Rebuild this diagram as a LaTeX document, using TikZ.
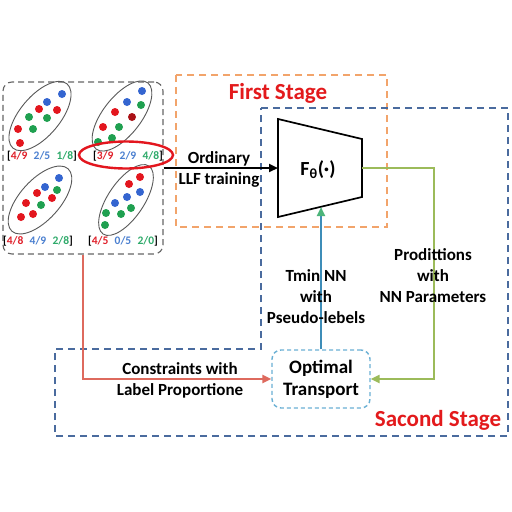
\documentclass[tikz,border=0pt]{standalone}
\usepackage{fontspec}
\setmainfont{Carlito}
\usetikzlibrary{arrows.meta}
\definecolor{dotred}{HTML}{E3161E}
\definecolor{dotblue}{HTML}{3465D0}
\definecolor{dotgreen}{HTML}{1FA050}
\definecolor{fracred}{HTML}{E0202A}
\definecolor{fracblue}{HTML}{4A7FD0}
\definecolor{fracgreen}{HTML}{2EAA6A}
\definecolor{stagered}{HTML}{E31A1C}
\definecolor{orangedash}{HTML}{F2A46B}
\definecolor{bluedash}{HTML}{4A6B9E}
\definecolor{otblue}{HTML}{6AB0D4}
\definecolor{redline}{HTML}{DE6A5E}
\definecolor{greenline}{HTML}{9CBB5A}
\definecolor{bluearrow}{HTML}{3E8DB8}
\definecolor{greentip}{HTML}{4CB47A}
\newcommand{\fracrow}[3]{[\textcolor{fracred}{#1}\hspace{0.55em}\textcolor{fracblue}{#2}\hspace{0.55em}\textcolor{fracgreen}{#3}]}
\begin{document}
\begin{tikzpicture}[x=1pt,y=-1pt,
  lbl/.style={font=\fontsize{17}{21}\selectfont\bfseries, align=center, inner sep=0pt},
  stagetxt/.style={font=\fontsize{23}{26}\selectfont\bfseries, text=stagered, inner sep=0pt},
  fractxt/.style={font=\fontsize{11.5}{13}\selectfont\bfseries, inner sep=0pt},
  bagell/.style={draw=black!65, line width=0.9pt},
  tipstyle/.style={-{Triangle[length=9pt,width=8pt]}},
  linkline/.style={line width=2.2pt}]
\useasboundingbox (0,0) rectangle (512,512);
\fill[white] (0,0) rectangle (512,512);

% stage boxes
\draw[orangedash, line width=1.6pt, dash pattern=on 7pt off 5pt] (176,75) rectangle (387,227);
\draw[bluedash, line width=1.6pt, dash pattern=on 7pt off 5pt]
  (261,108) -- (508,108) -- (508,436) -- (55,436) -- (55,349) -- (261,349) -- cycle;
\node[stagetxt] (first) at (278,93) {First Stage};
\node[stagetxt] (second) at (438,420) {Sacond Stage};

% bags box
\node[draw=black!60, line width=1.1pt, dash pattern=on 6pt off 4pt, rounded corners=9pt,
  minimum width=160pt, minimum height=172pt, inner sep=0pt] (bags) at (83,168) {};

% ellipses
\draw[bagell, rotate around={50:(40,116)}] (40,116) ellipse [x radius=42pt, y radius=20pt];
\draw[bagell, rotate around={52:(122,116)}] (122,116) ellipse [x radius=42pt, y radius=19pt];
\draw[bagell, rotate around={48:(40,200)}] (40,200) ellipse [x radius=42pt, y radius=20pt];
\draw[bagell, rotate around={56:(126,200)}] (126,200) ellipse [x radius=41pt, y radius=18pt];

% dots
\foreach \px/\py/\c in {62/94/dotblue, 47/102/dotblue, 39/109/dotred, 57/110/dotred,
   29/117/dotgreen, 47/118/dotgreen, 18/129/dotred, 33/129/dotgreen, 20/143/dotred,
   142/91/dotblue, 127/102/dotblue, 141/105/dotgreen, 115/112/dotred, 132/117/dotred!75!black,
   103/127/dotred, 119/127/dotgreen, 98/142/dotgreen, 112/138/dotgreen,
   59/178/dotblue, 45/187/dotblue, 57/190/dotgreen, 37/193/dotred, 52/198/dotred,
   26/203/dotred, 41/205/dotgreen, 21/217/dotred, 33/214/dotred,
   140/177/dotred, 129/184/dotred, 140/192/dotblue, 127/197/dotblue, 115/203/dotblue,
   131/208/dotgreen, 121/214/dotgreen, 106/213/dotgreen, 105/225/dotgreen}
  \fill[\c] (\px,\py) circle (4pt);

% fraction labels
\node[fractxt] (l1) at (42,156) {\fracrow{4/9}{2/5}{1/8}};
\node[fractxt] (l2) at (128,156) {\fracrow{3/9}{2/9}{4/8}};
\node[fractxt] (l3) at (38,241) {\fracrow{4/8}{4/9}{2/8}};
\node[fractxt] (l4) at (123,241) {\fracrow{4/5}{0/5}{2/0}};
\draw[dotred, line width=2.4pt] (126,155) ellipse [x radius=47pt, y radius=13.5pt];

% model trapezoid
\draw[line width=1.7pt, fill=white] (278,119) -- (362,139) -- (362,197) -- (278,217) -- cycle;
\node[font=\fontsize{20}{24}\selectfont\bfseries, inner sep=0pt] (F) at (318,170) {F\textsubscript{θ}(·)};
\coordinate (Fin) at (278,168);
\coordinate (Fout) at (362,168);
\coordinate (Fbot) at (321,207);
\coordinate (gx) at (434,0);

% optimal transport
\node[draw=otblue, line width=1.4pt, dash pattern=on 4pt off 3pt, rounded corners=9pt,
  minimum width=98pt, minimum height=58pt, inner sep=0pt, align=center,
  font=\fontsize{19}{22}\selectfont\bfseries] (OT) at (321,379) {Optimal\\Transport};

% connectors
\draw[linkline, tipstyle] (bags.east |- Fin) -- (Fin);
\node[lbl] (ordlbl) at (219,169) {Ordinary\\LLF training};

\draw[linkline, greenline, tipstyle] (Fout) -- (Fout -| gx) |- (OT.east);
\node[lbl] (grnlbl) at (433,276) {Prodittions\\with\\NN Parameters};

\draw[linkline, bluearrow, -{Triangle[length=9pt,width=8pt,color=greentip]}] (OT.north) -- (Fbot);
\node[lbl] (blulbl) at (316,297) {Tmin NN\\with\\Pseudo-lebels};

\draw[linkline, redline, tipstyle] (bags.south) |- (OT.west);
\node[lbl] (redlbl) at (180,380) {Constraints with\\Label Proportione};
\end{tikzpicture}
\end{document}
